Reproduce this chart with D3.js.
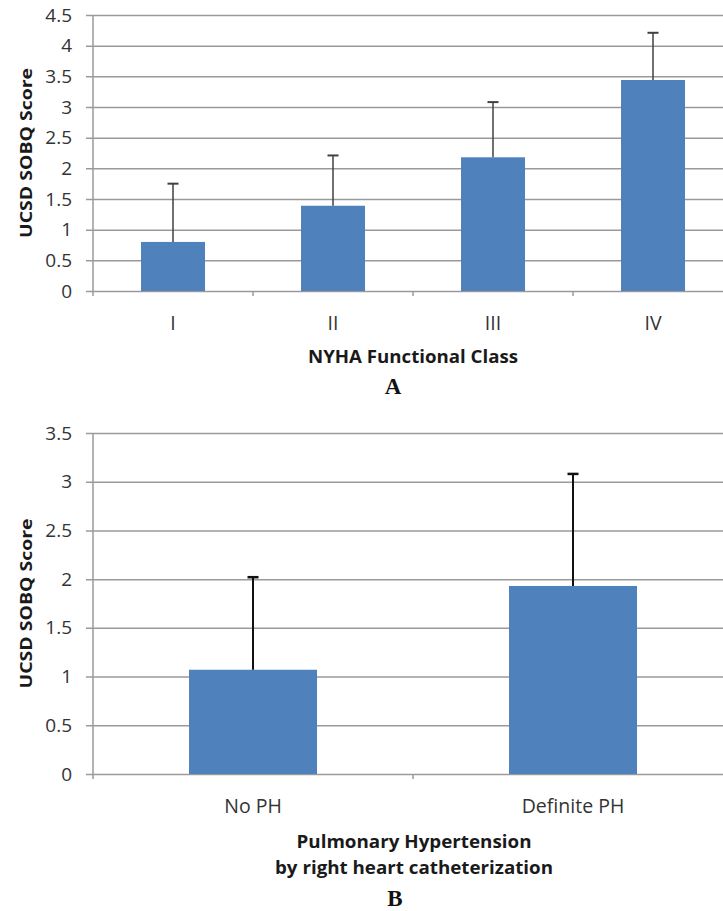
<!DOCTYPE html>
<html>
<head>
<meta charset="utf-8">
<script src="https://cdn.jsdelivr.net/npm/d3@7"></script>
<style>
  html, body { margin: 0; padding: 0; background: #fff; }
  svg { display: block; }
</style>
</head>
<body>
<svg id="chart" width="723" height="911"></svg>
<script>
// ---- Data ----
const classesA = ["I", "II", "III", "IV"];
const meansA = [0.80, 1.39, 2.18, 3.44];
const errorsA = [0.95, 0.82, 0.90, 0.77];
const ticksA = [0, 0.5, 1, 1.5, 2, 2.5, 3, 3.5, 4, 4.5];

const groupsB = ["No PH", "Definite PH"];
const meansB = [1.07, 1.93];
const errorsB = [0.95, 1.15];
const ticksB = [0, 0.5, 1, 1.5, 2, 2.5, 3, 3.5];

const svg = d3.select("#chart");
const W = 723;
const axisX = 93;
const barColor = "#4F81BD";
const gridColor = "#9a9a9a";
const labelFont = "'Open Sans', 'Noto Sans', sans-serif";

function panel(cfg) {
  const g = svg.append("g");
  const y = d3.scaleLinear().domain(cfg.domain).range([cfg.y0, cfg.y1]);
  const x = d3.scaleBand().domain(cfg.cats).range([axisX, axisX + cfg.bandW * cfg.cats.length])
    .paddingInner(0.6).paddingOuter(0.3);
  const xb = d3.scaleBand().domain(cfg.cats).range([axisX, axisX + cfg.bandW * cfg.cats.length]);

  // gridlines + tick labels
  const ax = d3.axisLeft(y).tickValues(cfg.ticks).tickSize(-(W - 86)).tickPadding(14)
    .tickFormat(d3.format("~g"));
  const axg = g.append("g").attr("transform", `translate(86,0)`).call(ax);
  axg.select(".domain").remove();
  axg.selectAll(".tick line").attr("stroke", gridColor).attr("stroke-width", 1.5);
  axg.selectAll(".tick text").attr("fill", "#333").style("font-family", labelFont)
    .style("font-size", "19px");

  // vertical axis line
  g.append("line").attr("x1", axisX).attr("x2", axisX)
    .attr("y1", cfg.y1).attr("y2", cfg.y0 + 5)
    .attr("stroke", gridColor).attr("stroke-width", 1.5);

  // category boundary ticks
  g.selectAll(".ctick").data(cfg.cats.slice(1)).enter().append("line")
    .attr("x1", d => xb(d)).attr("x2", d => xb(d))
    .attr("y1", cfg.y0).attr("y2", cfg.y0 + 5)
    .attr("stroke", gridColor).attr("stroke-width", 1.5);

  // bars
  g.selectAll(".bar").data(cfg.cats).enter().append("rect")
    .attr("x", d => x(d)).attr("width", x.bandwidth())
    .attr("y", (d, i) => y(cfg.means[i]))
    .attr("height", (d, i) => y(0) - y(cfg.means[i]))
    .attr("fill", barColor);

  // error bars (upper only)
  const cx = d => x(d) + x.bandwidth() / 2;
  g.selectAll(".err").data(cfg.cats).enter().append("line")
    .attr("x1", cx).attr("x2", cx)
    .attr("y1", (d, i) => y(cfg.means[i]))
    .attr("y2", (d, i) => y(cfg.means[i] + cfg.errors[i]))
    .attr("stroke", cfg.errColor).attr("stroke-width", cfg.errW);
  g.selectAll(".cap").data(cfg.cats).enter().append("line")
    .attr("x1", d => cx(d) - 5.5).attr("x2", d => cx(d) + 5.5)
    .attr("y1", (d, i) => y(cfg.means[i] + cfg.errors[i]))
    .attr("y2", (d, i) => y(cfg.means[i] + cfg.errors[i]))
    .attr("stroke", cfg.errColor).attr("stroke-width", cfg.errW + 0.5);

  // category labels
  g.selectAll(".clab").data(cfg.cats).enter().append("text")
    .attr("x", d => xb(d) + xb.bandwidth() / 2).attr("y", cfg.labY)
    .attr("text-anchor", "middle").attr("dominant-baseline", "central")
    .attr("fill", "#333").style("font-family", labelFont).style("font-size", "19.5px")
    .text(d => d);

  // y title
  g.append("text")
    .attr("transform", `translate(25,${(cfg.y0 + cfg.y1) / 2}) rotate(-90)`)
    .attr("text-anchor", "middle").attr("dominant-baseline", "central")
    .attr("fill", "#1a1a1a").style("font-family", labelFont).style("font-size", "16.5px")
    .style("font-weight", "bold")
    .attr("textLength", 170).attr("lengthAdjust", "spacingAndGlyphs")
    .text("UCSD SOBQ Score");

  // x titles
  cfg.xTitles.forEach(t => {
    g.append("text").attr("x", t.x).attr("y", t.y)
      .attr("text-anchor", "middle").attr("dominant-baseline", "central")
      .attr("fill", "#1a1a1a").style("font-family", labelFont).style("font-size", "17.5px")
      .style("font-weight", "bold")
      .attr("textLength", t.w).attr("lengthAdjust", "spacingAndGlyphs")
      .text(t.text);
  });

  // panel letter
  g.append("text").attr("x", cfg.letterX).attr("y", cfg.letterY)
    .attr("text-anchor", "middle").attr("dominant-baseline", "central")
    .attr("fill", "#111").style("font-family", "'Liberation Serif', 'Times New Roman', serif")
    .style("font-size", "23px").style("font-weight", "bold")
    .text(cfg.letter);
}

panel({
  cats: classesA, means: meansA, errors: errorsA, ticks: ticksA,
  domain: [0, 4.5], y0: 291, y1: 15, bandW: 160,
  errColor: "#404040", errW: 1.5, labY: 322,
  xTitles: [{ text: "NYHA Functional Class", x: 413, y: 356, w: 210 }],
  letter: "A", letterX: 393, letterY: 386
});

panel({
  cats: groupsB, means: meansB, errors: errorsB, ticks: ticksB,
  domain: [0, 3.5], y0: 774, y1: 433, bandW: 320,
  errColor: "#111", errW: 2, labY: 805,
  xTitles: [
    { text: "Pulmonary Hypertension", x: 414, y: 841, w: 235 },
    { text: "by right heart catheterization", x: 414, y: 867, w: 278 }
  ],
  letter: "B", letterX: 395, letterY: 898
});
</script>
</body>
</html>
